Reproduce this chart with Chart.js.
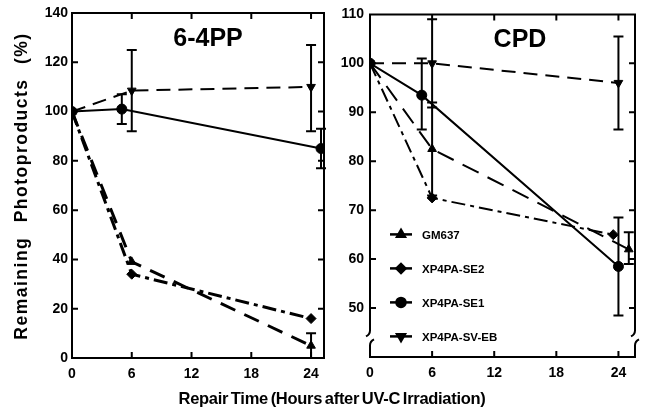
<!DOCTYPE html>
<html>
<head>
<meta charset="utf-8">
<script src="https://cdn.jsdelivr.net/npm/chart.js@4.4.1/dist/chart.umd.min.js"></script>
<style>
  html, body { margin: 0; padding: 0; background: #fff; }
  #wrap { position: relative; width: 645px; height: 414px; background: #fff; overflow: hidden; }
  #wrap canvas { position: absolute; top: 0; }
  #xtitle {
    position: absolute; left: 0; width: 664px; top: 389px; text-align: center;
    font: bold 16.5px "Liberation Sans", Arial, sans-serif; letter-spacing: -0.3px; word-spacing: -1.5px; color: #000;
  }
  #ytitle {
    position: absolute; left: -149px; top: 176px; width: 340px; height: 20px; line-height: 20px;
    text-align: center; white-space: pre; transform: rotate(-90deg); transform-origin: 50% 50%;
    font: bold 17.5px "Liberation Sans", Arial, sans-serif; letter-spacing: 1.5px; word-spacing: 8px; color: #000;
  }
</style>
</head>
<body>
<div id="wrap">
  <canvas id="pp" width="330" height="414" style="left:0"></canvas>
  <canvas id="cpd" width="315" height="414" style="left:330px"></canvas>
  <div id="ytitle">Remaining Photoproducts (%)</div>
  <div id="xtitle">Repair Time (Hours after UV-C Irradiation)</div>
</div>
<script>
// series labels
var seriesNames = ['GM637', 'XP4PA-SE2', 'XP4PA-SE1', 'XP4PA-SV-EB'];

// 6-4PP panel (hours, % remaining, error ranges)
var ppGM637x = [0, 6, 24],   ppGM637 = [100, 39, 5],    ppGM637err = [null, null, [0, 10]];
var ppSE2x = [0, 6, 24],     ppSE2 = [100, 34, 16],     ppSE2err = [null, null, null];
var ppSE1x = [0, 5, 25],     ppSE1 = [100, 101, 85],    ppSE1err = [null, [95, 107], [77, 93]];
var ppSVEBx = [0, 6, 24],    ppSVEB = [100, 108.5, 110], ppSVEBerr = [null, [92, 125], [92, 127]];

// CPD panel
var cpdGM637x = [0, 6, 25],  cpdGM637 = [100, 82.5, 62],  cpdGM637err = [null, [73, 92], [59, 65.5]];
var cpdSE2x = [0, 6, 23.5],  cpdSE2 = [100, 72.5, 65],    cpdSE2err = [null, null, null];
var cpdSE1x = [0, 5, 24],    cpdSE1 = [100, 93.5, 58.5],  cpdSE1err = [null, [86.5, 101], [48.5, 68.5]];
var cpdSVEBx = [0, 6, 24],   cpdSVEB = [100, 100, 96],    cpdSVEBerr = [null, [91, 109], [86.5, 105.5]];

var xTicks = [0, 6, 12, 18, 24];
var ppYTicks = [0, 20, 40, 60, 80, 100, 120, 140];
var cpdYTicks = [50, 60, 70, 80, 90, 100, 110];

var FONT = '"Liberation Sans", Arial, sans-serif';

function pts(xs, ys) {
  return xs.map(function (x, i) { return { x: x, y: ys[i] }; });
}

function series(label, xs, ys, errs, style, rot, dash, width) {
  return {
    label: label,
    data: pts(xs, ys),
    errors: errs,
    borderColor: '#000',
    backgroundColor: '#000',
    borderWidth: width,
    borderDash: dash,
    pointStyle: style,
    rotation: rot,
    pointRadius: 5,
    pointBorderWidth: 1,
    tension: 0
  };
}

// frame with inward ticks (and optional axis break)
var framePlugin = {
  id: 'frame',
  afterDraw: function (chart, args, opts) {
    var ctx = chart.ctx, a = chart.chartArea, xs = chart.scales.x, ys = chart.scales.y;
    ctx.save();
    ctx.strokeStyle = '#000';
    ctx.lineWidth = 2;
    ctx.beginPath();
    ctx.moveTo(a.left - 1, a.top); ctx.lineTo(a.right + 1, a.top);
    ctx.moveTo(a.left - 1, a.bottom); ctx.lineTo(a.right + 1, a.bottom);
    [a.left, a.right].forEach(function (px) {
      if (opts.breakAt != null) {
        var yb = ys.getPixelForValue(opts.breakAt);
        ctx.moveTo(px, a.top); ctx.lineTo(px, yb - 7);
        ctx.quadraticCurveTo(px, yb - 3, px - 4, yb - 1);
        ctx.moveTo(px + 4, yb + 2);
        ctx.quadraticCurveTo(px, yb + 4, px, yb + 8);
        ctx.lineTo(px, a.bottom);
      } else {
        ctx.moveTo(px, a.top); ctx.lineTo(px, a.bottom);
      }
    });
    opts.yTicks.forEach(function (v) {
      var py = ys.getPixelForValue(v);
      if (py <= a.top + 2 || py >= a.bottom - 2) return;
      ctx.moveTo(a.left, py); ctx.lineTo(a.left + 6, py);
      ctx.moveTo(a.right, py); ctx.lineTo(a.right - 6, py);
    });
    opts.xTicks.forEach(function (v) {
      var px = xs.getPixelForValue(v);
      if (px <= a.left + 2) return;
      ctx.moveTo(px, a.bottom); ctx.lineTo(px, a.bottom - 6);
      ctx.moveTo(px, a.top); ctx.lineTo(px, a.top + 6);
    });
    ctx.stroke();
    ctx.restore();
  }
};

var errorBarPlugin = {
  id: 'errorBars',
  afterDatasetsDraw: function (chart) {
    var ctx = chart.ctx, xs = chart.scales.x, ys = chart.scales.y;
    ctx.save();
    ctx.strokeStyle = '#000';
    ctx.lineWidth = 2;
    chart.data.datasets.forEach(function (ds) {
      (ds.errors || []).forEach(function (e, i) {
        if (!e) return;
        var px = xs.getPixelForValue(ds.data[i].x);
        var lo = ys.getPixelForValue(e[0]), hi = ys.getPixelForValue(e[1]);
        ctx.beginPath();
        ctx.moveTo(px, lo); ctx.lineTo(px, hi);
        ctx.moveTo(px - 5, lo); ctx.lineTo(px + 5, lo);
        ctx.moveTo(px - 5, hi); ctx.lineTo(px + 5, hi);
        ctx.stroke();
      });
    });
    ctx.restore();
  }
};

var panelTitlePlugin = {
  id: 'panelTitle',
  afterDraw: function (chart, args, opts) {
    var ctx = chart.ctx, a = chart.chartArea;
    ctx.save();
    ctx.fillStyle = '#000';
    ctx.font = 'bold 25px ' + FONT;
    ctx.textAlign = 'center';
    ctx.textBaseline = 'middle';
    ctx.fillText(opts.text, a.left + opts.dx, a.top + 26);
    ctx.restore();
  }
};

var keyPlugin = {
  id: 'key',
  afterDraw: function (chart, args, opts) {
    if (!opts.show) return;
    var ctx = chart.ctx, a = chart.chartArea;
    ctx.save();
    chart.data.datasets.forEach(function (ds, i) {
      var y = a.top + 220 + i * 34;
      var x0 = a.left + 20;
      ctx.strokeStyle = '#000';
      ctx.lineWidth = 2.5;
      ctx.setLineDash([]);
      ctx.beginPath();
      ctx.moveTo(x0, y); ctx.lineTo(x0 + 22, y);
      ctx.stroke();
      ctx.fillStyle = '#000';
      Chart.helpers.drawPoint(ctx, { pointStyle: ds.pointStyle, rotation: ds.rotation, radius: 4.5, borderWidth: 1 }, x0 + 11, y);
      ctx.font = 'bold 11.5px ' + FONT;
      ctx.textAlign = 'left';
      ctx.textBaseline = 'middle';
      ctx.fillText(ds.label, x0 + 32, y + 1);
    });
    ctx.restore();
  }
};

function tickFont() { return { family: FONT, size: 14, weight: 'bold' }; }

function makeChart(id, datasets, cfg) {
  return new Chart(document.getElementById(id), {
    type: 'line',
    data: { datasets: datasets },
    plugins: [framePlugin, errorBarPlugin, panelTitlePlugin, keyPlugin],
    options: {
      responsive: false,
      animation: false,
      events: [],
      layout: { padding: cfg.padding },
      plugins: {
        legend: { display: false },
        tooltip: { enabled: false },
        frame: { breakAt: cfg.breakAt, yTicks: cfg.yTicks, xTicks: xTicks },
        panelTitle: { text: cfg.title, dx: cfg.titleDx },
        key: { show: cfg.key }
      },
      scales: {
        x: {
          type: 'linear', min: 0, max: cfg.xMax,
          afterBuildTicks: function (s) { s.ticks = xTicks.map(function (v) { return { value: v }; }); },
          ticks: { font: tickFont(), color: '#000', padding: 8, maxRotation: 0, autoSkip: false },
          grid: { display: false, drawTicks: false },
          border: { display: false },
          afterFit: function (s) { s.height = 30; }
        },
        y: {
          type: 'linear', min: cfg.yMin, max: cfg.yMax,
          afterBuildTicks: function (s) { s.ticks = cfg.yTicks.map(function (v) { return { value: v }; }); },
          ticks: { font: tickFont(), color: '#000', padding: cfg.yPad, autoSkip: false },
          grid: { display: false, drawTicks: false },
          border: { display: false },
          afterFit: function (s) { s.width = cfg.yWidth; }
        }
      }
    }
  });
}

makeChart('pp', [
  series(seriesNames[0], ppGM637x, ppGM637, ppGM637err, 'triangle', 0, [16, 10], 3),
  series(seriesNames[1], ppSE2x, ppSE2, ppSE2err, 'rectRot', 0, [14, 5, 4, 5], 3),
  series(seriesNames[2], ppSE1x, ppSE1, ppSE1err, 'circle', 0, [], 2),
  series(seriesNames[3], ppSVEBx, ppSVEB, ppSVEBerr, 'triangle', 180, [14, 8], 2)
], {
  padding: { left: 0, right: 5, top: 13, bottom: 26 },
  xMax: 25.3, yMin: 0, yMax: 140, yTicks: ppYTicks, yPad: 4, yWidth: 72,
  title: '6-4PP', titleDx: 136, key: false, breakAt: null
});

makeChart('cpd', [
  series(seriesNames[0], cpdGM637x, cpdGM637, cpdGM637err, 'triangle', 0, [18, 10], 2),
  series(seriesNames[1], cpdSE2x, cpdSE2, cpdSE2err, 'rectRot', 0, [14, 5, 4, 5], 2),
  series(seriesNames[2], cpdSE1x, cpdSE1, cpdSE1err, 'circle', 0, [], 2),
  series(seriesNames[3], cpdSVEBx, cpdSVEB, cpdSVEBerr, 'triangle', 180, [14, 8], 2)
], {
  padding: { left: 0, right: 10, top: 13, bottom: 27 },
  xMax: 25.6, yMin: 40, yMax: 110, yTicks: cpdYTicks, yPad: 6, yWidth: 40,
  title: 'CPD', titleDx: 150, key: true, breakAt: 44
});
</script>
</body>
</html>
